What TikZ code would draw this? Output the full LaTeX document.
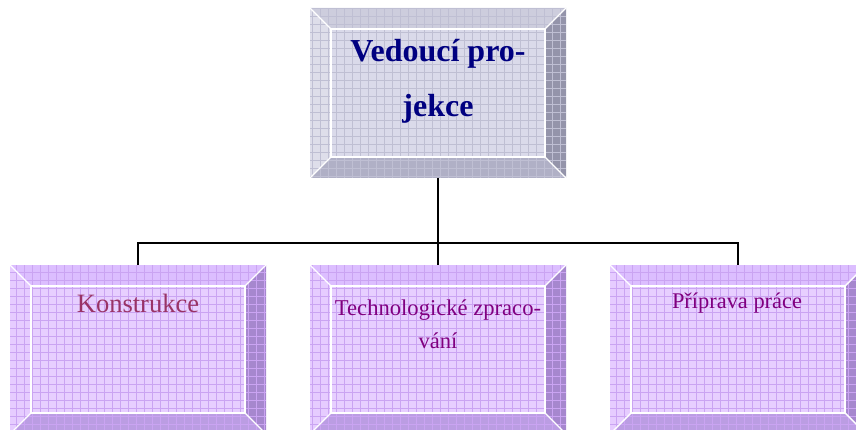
\documentclass[tikz,border=0pt]{standalone}
\usepackage{fontspec}
\setmainfont{Liberation Serif}
\usetikzlibrary{calc}

% palettes for the bevelled boxes
\definecolor{gFace}{HTML}{DADAEA}
\definecolor{gTop}{HTML}{CDCDDD}
\definecolor{gLeft}{HTML}{DEDEEA}
\definecolor{gRight}{HTML}{9494AA}
\definecolor{gBottom}{HTML}{B0B0C6}
\definecolor{gGrid}{HTML}{BFBFD3}
\definecolor{pFace}{HTML}{E7CFFF}
\definecolor{pTop}{HTML}{DCBEFF}
\definecolor{pLeft}{HTML}{E6CCFF}
\definecolor{pRight}{HTML}{A687CE}
\definecolor{pBottom}{HTML}{BB9DE3}
\definecolor{pGrid}{HTML}{CAA4F2}
\definecolor{navy}{HTML}{000080}
\definecolor{plum}{HTML}{800080}
\definecolor{rose}{HTML}{993366}

\tikzset{
  boxshape/.style={rectangle, inner sep=0pt, outer sep=0pt},
  bevelline/.style={white, line width=1.4pt},
  connector/.style={black, line width=1.8pt},
  label/.style={inner sep=0pt, align=center, anchor=base},
}

% #1 name, #2 x1, #3 y1, #4 x2, #5 y2, #6 palette prefix (g or p)
\newcommand\bevelbox[6]{%
  \node[boxshape, minimum width={(#4-#2)*1pt}, minimum height={(#5-#3)*1pt}]
    (#1) at ({(#2+#4)/2},{(#3+#5)/2}) {};
  \fill[#6Face] (#2+21,#3+21) rectangle (#4-21,#5-21);
  \fill[#6Top] (#2,#3) -- (#4,#3) -- (#4-21,#3+21) -- (#2+21,#3+21) -- cycle;
  \fill[#6Left] (#2,#3) -- (#2+21,#3+21) -- (#2+21,#5-21) -- (#2,#5) -- cycle;
  \fill[#6Right] (#4,#3) -- (#4,#5) -- (#4-21,#5-21) -- (#4-21,#3+21) -- cycle;
  \fill[#6Bottom] (#2,#5) -- (#2+21,#5-21) -- (#4-21,#5-21) -- (#4,#5) -- cycle;
  \begin{scope}
    \clip (#2,#3) rectangle (#4,#5);
    \draw[#6Grid, line width=0.5pt, step=8pt] (#2,#3) grid (#4,#5);
  \end{scope}
  \draw[bevelline] (#2+21,#3+21) rectangle (#4-21,#5-21);
  \draw[bevelline] (#2,#3) -- (#2+21,#3+21)
                   (#4,#3) -- (#4-21,#3+21)
                   (#2,#5) -- (#2+21,#5-21)
                   (#4,#5) -- (#4-21,#5-21);
}

\begin{document}
\begin{tikzpicture}[x=1pt, y=-1pt]
  \useasboundingbox (0,0) rectangle (856,430);
  \clip (0,0) rectangle (856,430);

  \bevelbox{lead}{310}{8}{566}{178}{g}
  \bevelbox{kon}{10}{265}{266}{434}{p}
  \bevelbox{tech}{310}{265}{566}{434}{p}
  \bevelbox{prip}{610}{265}{866}{434}{p}

  % labels
  \node[label, font={\fontsize{32}{55}\selectfont\bfseries}, text=navy]
    (leadtxt) at (438,62) {Vedoucí pro-};
  \node[label, font={\fontsize{32}{55}\selectfont\bfseries}, text=navy]
    (leadtxt2) at (438,117) {jekce};
  \node[label, font={\fontsize{26.5}{30}\selectfont}, text=rose]
    (kontxt) at (138,312) {Konstrukce};
  \node[label, font={\fontsize{22.6}{30}\selectfont}, text=plum]
    (techtxt) at (438,315) {Technologické zpraco-};
  \node[label, font={\fontsize{22.6}{30}\selectfont}, text=plum]
    (techtxt2) at (438,348) {vání};
  \node[label, font={\fontsize{22.4}{30}\selectfont}, text=plum]
    (priptxt) at (737,308) {Příprava práce};

  % connectors
  \coordinate (bus) at (438,243);
  \draw[connector] (lead.south) -- (bus);
  \draw[connector] (kon.north) |- (bus) -| (prip.north);
  \draw[connector] (bus) -- (tech.north);
\end{tikzpicture}
\end{document}
